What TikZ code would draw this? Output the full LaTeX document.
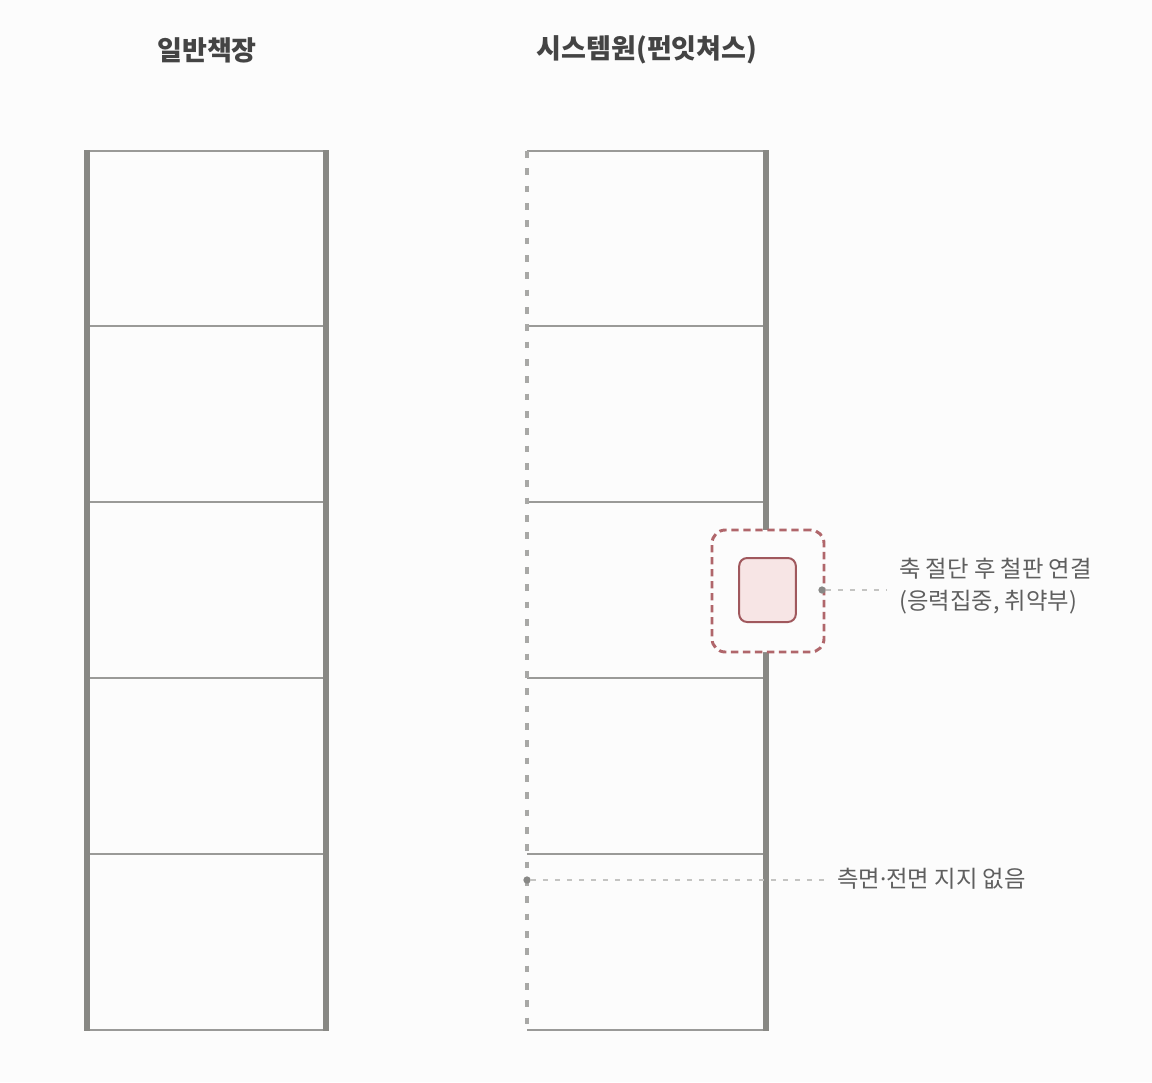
\documentclass[tikz,border=0pt]{standalone}
\usepackage{fontspec}
\setmainfont{Noto Sans CJK KR}
\newfontfamily\latinfont{Noto Sans}
\definecolor{bg}{HTML}{FCFCFC}
\definecolor{postc}{HTML}{888884}
\definecolor{shelfc}{HTML}{9A9A98}
\definecolor{dashc}{HTML}{A8A8A6}
\definecolor{leadc}{HTML}{C4C4C2}
\definecolor{dotc}{HTML}{888886}
\definecolor{redd}{HTML}{B0666B}
\definecolor{pinkf}{HTML}{F7E5E5}
\definecolor{pinkd}{HTML}{A0585D}
\definecolor{titlec}{HTML}{444444}
\definecolor{notec}{HTML}{5F5F5F}
\begin{document}
\begin{tikzpicture}[x=0.75pt,y=-0.75pt,
  postline/.style={draw=postc,line width=4.2pt},
  shelfline/.style={draw=shelfc,line width=2.2pt},
  openside/.style={draw=dashc,line width=2.4pt,dash pattern=on 5pt off 8pt},
  leader/.style={draw=leadc,line width=1.5pt,dash pattern=on 4pt off 5pt},
  dotmark/.style={circle,fill=dotc,inner sep=0pt,minimum size=5.5pt},
  titletext/.style={font=\fontsize{20.3pt}{24pt}\selectfont\bfseries,text=titlec,inner sep=0pt},
  notetext/.style={font=\fontsize{17.5pt}{24pt}\selectfont,text=notec,inner sep=0pt,align=left},
  focusbox/.style={draw=redd,line width=2.2pt,dash pattern=on 5.5pt off 3.5pt,rounded corners=10pt,fill=bg,minimum width=84pt,minimum height=91.5pt},
  platebox/.style={draw=pinkd,line width=1.5pt,rounded corners=6pt,fill=pinkf,minimum width=42.5pt,minimum height=48pt}]
\useasboundingbox[fill=bg] (0,0) rectangle (1152,1082);

% titles
\node[titletext] (t1) at (207,50) {일반책장};
\node[titletext] (t2) at (647,50) {시스템원(펀잇쳐스)};

% left cabinet
\foreach \yy in {151,326,502,678,854,1030}
  \draw[shelfline] (87,\yy) -- (326,\yy);
\draw[postline] (87,150) -- (87,1031);
\draw[postline] (326,150) -- (326,1031);

% right cabinet
\foreach \yy in {151,326,502,678,854,1030}
  \draw[shelfline] (527,\yy) -- (766,\yy);
\draw[openside] (527,151) -- (527,1030);
\draw[postline] (766,150) -- (766,1031);

% callout at cut post
\node[focusbox] (focus) at (768,591) {};
\node[platebox] (plate) at (767.5,590) {};
\node[dotmark] (d1) at (822,590) {};
\node[notetext,anchor=west] (n1) at (899,586) {축 절단 후 철판 연결\\(응력집중, 취약부)};
\draw[leader] (d1) -- ([xshift=-9pt]d1 -| n1.west);

% open side note
\node[dotmark] (d2) at (527,880) {};
\node[notetext,anchor=west] (n2) at (837,879) {측면{\latinfont\bfseries ·}전면 지지 없음};
\draw[leader] (d2) -- ([xshift=-6pt]d2 -| n2.west);
\end{tikzpicture}
\end{document}
